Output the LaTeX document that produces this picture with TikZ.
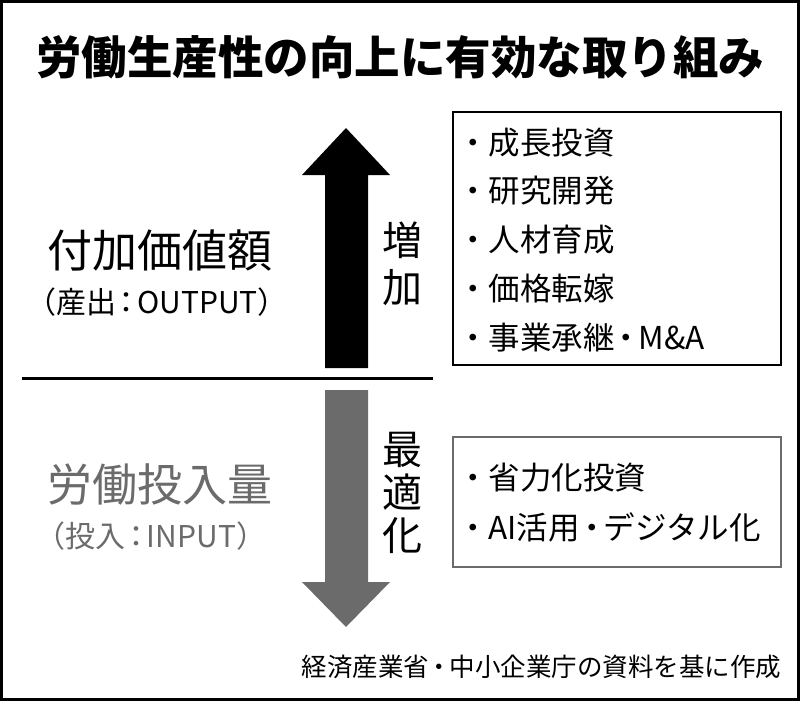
\documentclass[tikz,border=0pt]{standalone}
\usepackage{fontspec}
\setmainfont{Noto Sans CJK JP}
\definecolor{halftone}{gray}{0.42}
\begin{document}
\begin{tikzpicture}[x=1pt,y=-1pt,
  every node/.style={inner sep=0pt, outer sep=0pt},
  titletext/.style={font=\fontsize{45.5}{48}\selectfont\bfseries},
  mainlabel/.style={font=\fontsize{45}{48}\selectfont},
  sublabel/.style={font=\fontsize{30}{32}\selectfont},
  listtext/.style={font=\fontsize{31.5}{49}\selectfont, anchor=west},
  vertlabel/.style={font=\fontsize{40}{47}\selectfont, align=center},
  srctext/.style={font=\fontsize{25.5}{28}\selectfont}]
\useasboundingbox (0,0) rectangle (800,701);
% outer frame
\draw[line width=3pt] (1.5,1.5) rectangle (798.5,699.5);
% title
\node[titletext] (title) at (400,57) {労働生産性の向上に有効な取り組み};
% upper list box
\draw[line width=1.5pt] (453,112) rectangle (781,365);
\node[listtext] (u1) at (457,143) {・成長投資};
\node[listtext] (u2) at (457,191) {・研究開発};
\node[listtext] (u3) at (457,240) {・人材育成};
\node[listtext] (u4) at (457,289) {・価格転嫁};
\node[listtext] (u5) at (457,338) {・事業承継\kern-0.12em・\kern-0.12em M\&A};
% lower list box
\draw[line width=1.5pt, halftone] (453,437) rectangle (781,567);
\node[listtext] (l1) at (457,478) {・省力化投資};
\node[listtext] (l2) at (457,527) {・AI活用\kern-0.12em・\kern-0.12em デジタル化};
% arrows
\fill[black] (325,368) -- (325,175) -- (302,175) -- (346,128) -- (390,175) -- (368,175) -- (368,368) -- cycle;
\fill[halftone] (325,390) -- (325,582) -- (302,582) -- (346,627) -- (390,582) -- (368,582) -- (368,390) -- cycle;
% divider
\draw[line width=3pt] (22,378) -- (433,378);
% vertical labels
\node[vertlabel] (inc) at (402,264) {増\\加};
\node[vertlabel, font=\fontsize{40}{43}\selectfont] (opt) at (402,493) {最\\適\\化};
% left labels
\node[mainlabel] (va) at (160,250) {付加価値額};
\node[sublabel] (vo) at (157,302) {（産出\kern-0.15em：\kern-0.15em OUTPUT）};
\node[mainlabel, text=halftone] (li) at (160,485) {労働投入量};
\node[sublabel, text=halftone] (lo) at (151,536) {（投入\kern-0.15em：\kern-0.15em INPUT）};
% source
\node[srctext, anchor=east] (src) at (781,667) {経済産業省\kern-0.1em・\kern-0.1em 中小企業庁の資料を基に作成};
\end{tikzpicture}
\end{document}
